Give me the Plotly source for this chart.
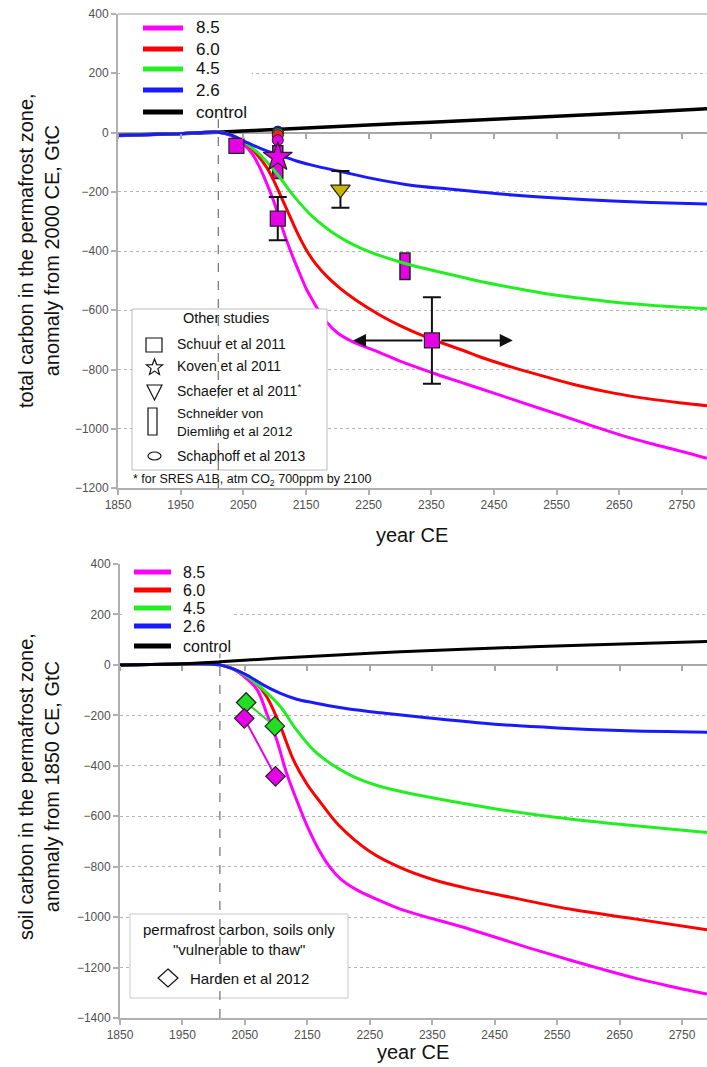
import math
import plotly.graph_objects as go

W, H = 707, 1067
FONT = "Liberation Sans, Arial, sans-serif"

# ---------------- panel geometry (px: left, top, right, bottom) ----------------
TOP_BOX = (118, 14, 707, 488)
BOT_BOX = (120, 564, 707, 1018)
X_RANGE = [1850, 2790]
TOP_Y_RANGE = [-1200, 400]
BOT_Y_RANGE = [-1400, 400]
REF_YEAR = 2010
REF_LINE_TOP = 45

# ---------------- data: top panel, total carbon, anomaly from 2000 CE ----------------
top_ctrl_years = [1850, 1900, 1950, 2000, 2100, 2200, 2300, 2400, 2500, 2600, 2700, 2790]
top_ctrl = [-10, -7, -4, 0, 10, 20, 30, 40, 50, 60, 70, 80]

top_26_years = [1850, 1950, 2010, 2030, 2055, 2080, 2108, 2135, 2161, 2204, 2267, 2320, 2374, 2427, 2480, 2550, 2639, 2700, 2790]
top_26 = [-10, -4, 1, -8, -33, -56, -77, -96, -111, -131, -160, -179, -190, -201, -211, -221, -231, -236, -241]

top_45_years = [1850, 1950, 2010, 2030, 2050, 2070, 2090, 2108, 2130, 2161, 2190, 2214, 2240, 2267, 2300, 2320, 2374, 2427, 2480, 2533, 2586, 2639, 2700, 2750, 2790]
top_45 = [-10, -4, 1, -8, -30, -62, -105, -151, -213, -285, -334, -366, -393, -415, -437, -449, -476, -502, -524, -544, -559, -572, -583, -590, -595]

top_60_years = [1850, 1950, 2010, 2030, 2050, 2070, 2087, 2098, 2108, 2119, 2130, 2140, 2151, 2165, 2183, 2205, 2230, 2267, 2300, 2347, 2400, 2427, 2480, 2533, 2586, 2639, 2700, 2750, 2790]
top_60 = [-10, -4, 1, -8, -30, -70, -117, -160, -206, -258, -310, -355, -398, -442, -485, -527, -566, -615, -652, -695, -735, -757, -793, -825, -855, -879, -900, -913, -922]

top_85_years = [1850, 1950, 2010, 2030, 2050, 2065, 2076, 2087, 2098, 2108, 2119, 2130, 2140, 2151, 2161, 2172, 2183, 2200, 2225, 2267, 2300, 2350, 2400, 2450, 2500, 2550, 2600, 2650, 2700, 2750, 2790]
top_85 = [-10, -4, 1, -10, -38, -75, -117, -170, -229, -295, -364, -425, -476, -530, -568, -607, -640, -676, -707, -742, -772, -810, -845, -880, -915, -950, -985, -1020, -1050, -1077, -1100]

# other studies (top panel)
schuur_year_a, schuur_val_a = [2039], [-45]
schuur_years = [2105, 2351]
schuur_vals = [-291, -702]
schuur_err = [73, 146]
schuur_hrange = [2225, 2480]          # horizontal range of the 2350 estimate
koven_years, koven_vals = [2105], [-83]
schaefer_years, schaefer_vals = [2205], [-192]
schaefer_err_plus, schaefer_err_minus = [62], [62]
schaphoff_years = [2105, 2105, 2105, 2105]
schaphoff_vals = [3, -3, -9, -26]
schaphoff_cols = ["#1010ff", "#10e010", "#ff2020", "#e600e6"]
svd_years = [2105, 2308]
svd_low = [-155, -496]
svd_high = [-45, -407]
svd_width_years = 16

# ---------------- data: bottom panel, soil carbon, anomaly from 1850 CE ----------------
bot_ctrl_years = [1850, 1950, 2010, 2100, 2250, 2400, 2600, 2790]
bot_ctrl = [0, 5, 12, 26, 46, 62, 79, 93]

bot_26_years = [1850, 1950, 1995, 2010, 2030, 2053, 2080, 2107, 2133, 2160, 2187, 2214, 2267, 2350, 2450, 2550, 2650, 2790]
bot_26 = [0, 4, 4, 0, -15, -40, -80, -113, -136, -150, -163, -174, -190, -212, -235, -250, -260, -267]

bot_45_years = [1850, 1950, 1995, 2010, 2030, 2053, 2080, 2107, 2133, 2160, 2187, 2214, 2240, 2267, 2300, 2350, 2450, 2550, 2650, 2790]
bot_45 = [0, 4, 4, 0, -15, -45, -99, -166, -259, -338, -391, -431, -460, -482, -502, -527, -570, -605, -632, -665]

bot_60_years = [1850, 1950, 1995, 2010, 2030, 2050, 2064, 2085, 2107, 2128, 2149, 2171, 2200, 2250, 2300, 2352, 2410, 2463, 2570, 2677, 2790]
bot_60 = [0, 4, 4, 0, -15, -38, -62, -126, -245, -378, -471, -545, -635, -740, -805, -852, -888, -915, -968, -1008, -1050]

bot_85_years = [1850, 1950, 1995, 2010, 2030, 2053, 2070, 2085, 2101, 2117, 2131, 2150, 2170, 2187, 2203, 2230, 2260, 2299, 2410, 2513, 2570, 2620, 2680, 2727, 2790]
bot_85 = [0, 4, 4, 0, -15, -55, -100, -193, -298, -431, -524, -640, -740, -805, -848, -893, -928, -968, -1048, -1128, -1170, -1205, -1245, -1272, -1305]

harden45_years, harden45_vals = [2052, 2098], [-149, -243]
harden85_years, harden85_vals = [2049, 2099], [-212, -442]

scenario_labels = ["8.5", "6.0", "4.5", "2.6", "control"]
COL = {"8.5": "#ff00ff", "6.0": "#ff0000", "4.5": "#22ee22", "2.6": "#1a1aff", "control": "#000000"}
MAG = "#e600e6"

# ---------------- helpers ----------------
def px(x):
    return x / W


def py(y):
    return 1 - y / H


def dom(box):
    l, t, r, b = box
    return [l / W, r / W], [1 - b / H, 1 - t / H]


top_xd, top_yd = dom(TOP_BOX)
bot_xd, bot_yd = dom(BOT_BOX)

fig = go.Figure()


def curve(x, y, name, xa, ya, width=3):
    fig.add_trace(go.Scatter(x=x, y=y, mode="lines", name=name, xaxis=xa, yaxis=ya,
                             line=dict(color=COL[name], width=width, shape="spline", smoothing=1.0),
                             showlegend=False, hoverinfo="x+y+name"))


# top curves
curve(top_ctrl_years, top_ctrl, "control", "x", "y", 3.5)
curve(top_85_years, top_85, "8.5", "x", "y")
curve(top_60_years, top_60, "6.0", "x", "y")
curve(top_45_years, top_45, "4.5", "x", "y")
curve(top_26_years, top_26, "2.6", "x", "y")

# top study markers
fig.add_trace(go.Bar(x=svd_years, y=[h - l for h, l in zip(svd_high, svd_low)], base=svd_low,
                     width=[svd_width_years] * len(svd_years), xaxis="x", yaxis="y",
                     marker=dict(color=MAG, line=dict(color="#222222", width=1.5)),
                     showlegend=False, name="Schneider von Deimling et al 2012"))
fig.add_trace(go.Scatter(x=schaphoff_years, y=schaphoff_vals, mode="markers", xaxis="x", yaxis="y",
                         marker=dict(symbol="circle", size=11, color=schaphoff_cols,
                                     line=dict(color="#222222", width=1)),
                         showlegend=False, name="Schaphoff et al 2013"))
fig.add_trace(go.Scatter(x=koven_years, y=koven_vals, mode="markers", xaxis="x", yaxis="y",
                         marker=dict(symbol="star", size=22, color=MAG, line=dict(color="#222222", width=1.2)),
                         showlegend=False, name="Koven et al 2011"))
fig.add_trace(go.Scatter(x=schaefer_years, y=schaefer_vals, mode="markers", xaxis="x", yaxis="y",
                         error_y=dict(type="data", array=schaefer_err_plus, arrayminus=schaefer_err_minus,
                                      color="#111111", thickness=2, width=9),
                         marker=dict(symbol="triangle-down", size=17, color="#c8b400",
                                     line=dict(color="#222222", width=1.2)),
                         showlegend=False, name="Schaefer et al 2011"))
fig.add_trace(go.Scatter(x=schuur_year_a, y=schuur_val_a, mode="markers", xaxis="x", yaxis="y",
                         marker=dict(symbol="square", size=15, color=MAG, line=dict(color="#222222", width=1.2)),
                         showlegend=False, name="Schuur et al 2011"))
fig.add_trace(go.Scatter(x=schuur_years, y=schuur_vals, mode="markers", xaxis="x", yaxis="y",
                         error_y=dict(type="data", array=schuur_err, color="#111111", thickness=2, width=9),
                         marker=dict(symbol="square", size=15, color=MAG, line=dict(color="#222222", width=1.2)),
                         showlegend=False, name="Schuur et al 2011"))

# bottom curves
curve(bot_85_years, bot_85, "8.5", "x2", "y2")
curve(bot_60_years, bot_60, "6.0", "x2", "y2")
curve(bot_45_years, bot_45, "4.5", "x2", "y2")
curve(bot_26_years, bot_26, "2.6", "x2", "y2")
curve(bot_ctrl_years, bot_ctrl, "control", "x2", "y2")

fig.add_trace(go.Scatter(x=harden45_years, y=harden45_vals, mode="lines+markers", xaxis="x2", yaxis="y2",
                         line=dict(color="#22dd22", width=2),
                         marker=dict(symbol="diamond", size=15, color="#22dd22", line=dict(color="#222222", width=1.2)),
                         showlegend=False, name="Harden et al 2012 (4.5)"))
fig.add_trace(go.Scatter(x=harden85_years, y=harden85_vals, mode="lines+markers", xaxis="x2", yaxis="y2",
                         line=dict(color=MAG, width=2),
                         marker=dict(symbol="diamond", size=15, color=MAG, line=dict(color="#222222", width=1.2)),
                         showlegend=False, name="Harden et al 2012 (8.5)"))

# empty traces that bind the zero-line tick axes to their panels
fig.add_trace(go.Scatter(x=[None], y=[None], xaxis="x3", yaxis="y", showlegend=False, hoverinfo="skip"))
fig.add_trace(go.Scatter(x=[None], y=[None], xaxis="x4", yaxis="y2", showlegend=False, hoverinfo="skip"))

# ---------------- axes ----------------
GRID = "#b4b4b4"
AXC = "#b0b0b0"
tickfont = dict(family=FONT, size=12, color="#505050")


def xaxis(domain, anchor):
    return dict(domain=domain, anchor=anchor, range=X_RANGE, tick0=1850, dtick=100, automargin=False,
                showgrid=False, zeroline=False, showline=True, linecolor=AXC, linewidth=2,
                ticks="outside", ticklen=5, tickcolor=AXC, tickwidth=1.5, tickfont=tickfont)


def yaxis(domain, anchor, rng):
    return dict(domain=domain, anchor=anchor, range=rng, dtick=200, automargin=False,
                showgrid=True, gridcolor=GRID, griddash="dot", gridwidth=1,
                zeroline=True, zerolinecolor="#a8a8a8", zerolinewidth=2,
                showline=True, linecolor=AXC, linewidth=2,
                ticks="outside", ticklen=5, tickcolor=AXC, tickwidth=1.5, tickfont=tickfont)


def zero_pos(yd, rng):
    return yd[0] + (0 - rng[0]) / (rng[1] - rng[0]) * (yd[1] - yd[0])


def zero_ticks(over, domain, pos):
    return dict(overlaying=over, domain=domain, anchor="free", position=pos, range=X_RANGE, tick0=1850, dtick=100,
                automargin=False, showgrid=False, zeroline=False, showline=False, showticklabels=False,
                ticks="outside", ticklen=5, tickcolor="#a8a8a8", tickwidth=1.5)


fig.update_layout(
    xaxis=xaxis(top_xd, "y"), yaxis=yaxis(top_yd, "x", TOP_Y_RANGE),
    xaxis2=xaxis(bot_xd, "y2"), yaxis2=yaxis(bot_yd, "x2", BOT_Y_RANGE),
    xaxis3=zero_ticks("x", top_xd, zero_pos(top_yd, TOP_Y_RANGE)),
    xaxis4=zero_ticks("x2", bot_xd, zero_pos(bot_yd, BOT_Y_RANGE)),
)

# ---------------- shapes & annotations ----------------
shapes = []
ann = []


def white_box(x0, y0, x1, y1, line_col=None):
    shapes.append(dict(type="rect", xref="paper", yref="paper", x0=px(x0), x1=px(x1), y0=py(y1), y1=py(y0),
                       fillcolor="white", layer="above",
                       line=dict(color=line_col or "rgba(0,0,0,0)", width=1)))


# top border line of upper panel
shapes.append(dict(type="line", xref="x domain", yref="y domain", x0=0, x1=1, y0=1, y1=1,
                   line=dict(color="#bdbdbd", width=1.5), layer="below"))

# legend backgrounds
white_box(120, 16, 252, 122)
white_box(122, 566, 233, 654)
# other-studies box and Harden box
white_box(132, 309, 327, 470, "#bbbbbb")
white_box(130, 914, 348, 998, "#c8c8c8")

# reference year dashed lines
shapes.append(dict(type="line", xref="x", yref="y", x0=REF_YEAR, x1=REF_YEAR, y0=TOP_Y_RANGE[0], y1=REF_LINE_TOP,
                   line=dict(color="#555555", width=1, dash="dash"), layer="above"))
shapes.append(dict(type="line", xref="x2", yref="y2", x0=REF_YEAR, x1=REF_YEAR, y0=BOT_Y_RANGE[0], y1=REF_LINE_TOP,
                   line=dict(color="#555555", width=1, dash="dash"), layer="above"))


def legend_block(x0, x1, xt, ys, size):
    for lab, yy in zip(scenario_labels, ys):
        shapes.append(dict(type="line", xref="paper", yref="paper", x0=px(x0), x1=px(x1), y0=py(yy), y1=py(yy),
                           line=dict(color=COL[lab], width=5), layer="above"))
        ann.append(dict(text=lab, xref="paper", yref="paper", x=px(xt), y=py(yy), xanchor="left", yanchor="middle",
                        showarrow=False, font=dict(family=FONT, size=size, color="#111111")))


legend_block(143, 183, 194, [28, 49, 69, 90, 112], 17)
legend_block(134, 171, 181, [572, 590, 608, 626, 646], 16)


def text(t, x, y, size, anchor="left", color="#111111"):
    ann.append(dict(text=t, xref="paper", yref="paper", x=px(x), y=py(y), xanchor=anchor, yanchor="middle",
                    align=anchor, showarrow=False, font=dict(family=FONT, size=size, color=color)))


def path(points):
    return "M" + " L".join(f"{px(a):.5f},{py(b):.5f}" for a, b in points) + " Z"


sym_line = dict(color="#111111", width=1.2)
# other studies legend symbols
shapes.append(dict(type="rect", xref="paper", yref="paper", x0=px(146), x1=px(162), y0=py(352), y1=py(338),
                   line=sym_line, layer="above"))
star = []
for i in range(10):
    r = 8.5 if i % 2 == 0 else 3.6
    a = -math.pi / 2 + i * math.pi / 5
    star.append((154.5 + r * math.cos(a), 367.5 + r * math.sin(a)))
shapes.append(dict(type="path", xref="paper", yref="paper", path=path(star), line=sym_line, layer="above"))
shapes.append(dict(type="path", xref="paper", yref="paper", path=path([(147, 385), (162, 385), (154.5, 400)]),
                   line=sym_line, layer="above"))
shapes.append(dict(type="rect", xref="paper", yref="paper", x0=px(148), x1=px(157), y0=py(435), y1=py(408),
                   line=sym_line, layer="above"))
shapes.append(dict(type="circle", xref="paper", yref="paper", x0=px(148), x1=px(161), y0=py(460), y1=py(452),
                   line=sym_line, layer="above"))
# Harden legend diamond
shapes.append(dict(type="path", xref="paper", yref="paper",
                   path=path([(168, 969), (178, 978), (168, 987), (158, 978)]), line=sym_line, layer="above"))

text("Other studies", 226, 318, 14.5, "center")
text("Schuur et al 2011", 175, 344, 14)
text("Koven et al 2011", 175, 366, 14)
text("Schaefer et al 2011<sup>*</sup>", 175, 390, 14)
text("Schneider von<br>Diemling et al 2012", 175, 422, 13.5)
text("Schaphoff et al 2013", 175, 456, 14)
text("* for SRES A1B, atm CO<sub>2</sub> 700ppm by 2100", 131, 480, 12.5)

text("permafrost carbon, soils only", 239, 929, 15, "center")
text("\"vulnerable to thaw\"", 239, 949, 15, "center")
text("Harden et al 2012", 188, 978, 15)

# axis titles
ann.append(dict(text="total carbon in the permafrost zone,<br>anomaly from 2000 CE, GtC", xref="paper", yref="paper",
                x=px(39), y=py(251), xanchor="center", yanchor="middle", textangle=-90, showarrow=False,
                font=dict(family=FONT, size=20, color="#111111")))
ann.append(dict(text="soil carbon in the permafrost zone,<br>anomaly from 1850 CE, GtC", xref="paper", yref="paper",
                x=px(39), y=py(787), xanchor="center", yanchor="middle", textangle=-90, showarrow=False,
                font=dict(family=FONT, size=20, color="#111111")))
text("year CE", 412, 535, 20, "center")
text("year CE", 413, 1052, 20, "center")

# horizontal range arrows of the Schuur 2350 estimate
for tip in schuur_hrange:
    ann.append(dict(x=tip, y=schuur_vals[1], ax=schuur_years[1], ay=schuur_vals[1], xref="x", yref="y",
                    axref="x", ayref="y", showarrow=True, arrowhead=2, arrowsize=1.3, arrowwidth=2,
                    arrowcolor="#111111", startstandoff=8, text=""))

fig.update_layout(
    width=W, height=H, margin=dict(l=0, r=0, t=0, b=0, pad=0, autoexpand=False),
    paper_bgcolor="white", plot_bgcolor="white", showlegend=False,
    barmode="overlay", shapes=shapes, annotations=ann,
    font=dict(family=FONT),
)

fig.write_html("out.html", config={"displayModeBar": False},
               post_script="document.body.style.margin='0';document.body.style.overflow='hidden';")
